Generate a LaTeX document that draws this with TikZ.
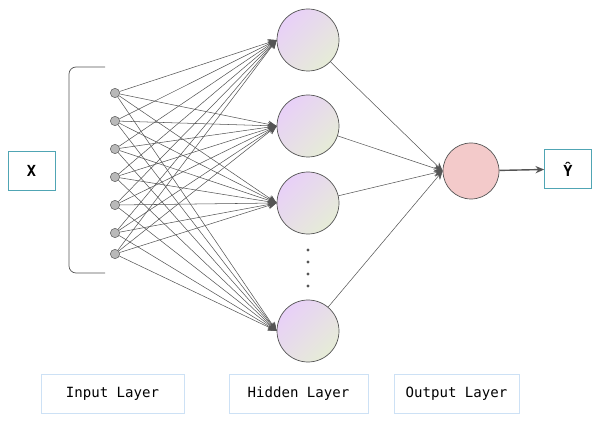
\documentclass[tikz,border=0pt]{standalone}
\usepackage{fontspec}
\setmonofont{DejaVu Sans Mono}
\usepackage{tikz}
\usetikzlibrary{arrows.meta, positioning, calc}
\definecolor{nnline}{RGB}{85,85,85}
\definecolor{nngray}{RGB}{185,185,185}
\definecolor{nnteal}{RGB}{80,165,180}
\definecolor{nnlight}{RGB}{205,225,245}
\definecolor{hidpurple}{RGB}{232,208,248}
\definecolor{hidgreen}{RGB}{230,236,215}
\definecolor{outpink}{RGB}{243,202,202}
\tikzset{
  innode/.style={circle, draw=nnline, fill=nngray, minimum size=2.8mm,
    inner sep=0pt, line width=0.4pt},
  hidnode/.style={circle, draw=nnline, left color=hidpurple, right color=hidgreen,
    shading angle=45, minimum size=18.6mm, inner sep=0pt, line width=0.6pt},
  outnode/.style={circle, draw=nnline, fill=outpink,
    minimum size=16.8mm, inner sep=0pt, line width=0.6pt},
  varbox/.style={rectangle, draw=nnteal, fill=white, minimum width=14.1mm,
    minimum height=11.7mm, font=\ttfamily\bfseries\fontsize{13}{15}\selectfont, line width=0.6pt},
  layerbox/.style={rectangle, draw=nnlight, fill=white, minimum height=11.7mm,
    font=\ttfamily\fontsize{12}{14}\selectfont, line width=0.6pt},
  arrow/.style={-{Stealth[length=2.6mm, width=2.2mm]}, color=nnline, line width=0.45pt},
  thickarrow/.style={-{Stealth[length=2.6mm, width=2.2mm]}, color=nnline, line width=1.2pt}
}
\begin{document}
\begin{tikzpicture}[x=0.3mm, y=-0.3mm]
  \useasboundingbox (0,0) rectangle (600,422);

  % Input layer
  \foreach \i/\yy in {1/93, 2/121, 3/149, 4/177, 5/205, 6/233, 7/254}
    \node[innode] (in\i) at (115,\yy) {};

  % Bracket
  \draw[color=nnline, line width=0.6pt, rounded corners=6pt]
    (105,67) -- (69,67) -- (69,273) -- (105,273);

  % Hidden layer
  \node[hidnode] (h1) at (308,40) {};
  \node[hidnode] (h2) at (308,126) {};
  \node[hidnode] (h3) at (308,203) {};
  \node[hidnode] (h4) at (308,331) {};

  % Ellipsis dots
  \foreach \yy in {250, 262, 274, 286}
    \fill[nnline] (308,\yy) circle (1.3pt);

  % Output layer
  \node[outnode] (out) at (471,171) {};

  % Input and output boxes
  \node[varbox] (xbox) at (31.5,171) {X};
  \node[varbox] (yhat) at (568,169) {Ŷ};

  % Connections
  \foreach \i in {1,...,7}
    \foreach \j in {1,...,4}
      \draw[arrow] (in\i) -- (h\j.west);
  \foreach \j in {1,...,4}
    \draw[arrow] (h\j) -- (out.west);
  \draw[thickarrow] (out) -- (yhat);

  % Layer labels
  \node[layerbox, minimum width=42.9mm] (inlabel) at (112.5,393.5) {Input Layer};
  \node[layerbox, minimum width=41.7mm] (hidlabel) at (298.5,393.5) {Hidden Layer};
  \node[layerbox, minimum width=37.5mm] (outlabel) at (456.5,393.5) {Output Layer};
\end{tikzpicture}
\end{document}
